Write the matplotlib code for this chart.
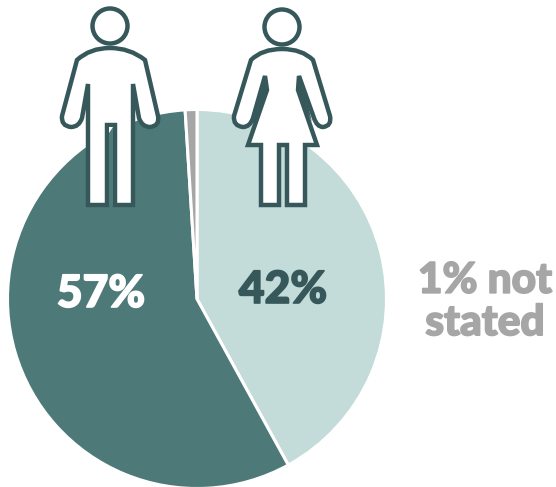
import matplotlib
matplotlib.use("Agg")
import matplotlib.pyplot as plt
import matplotlib.patheffects as pe
from matplotlib.patches import Circle, PathPatch, Polygon
from matplotlib.path import Path

# Datos
grupos = ["Mujeres", "Hombres", "No indicado"]
valores = [42, 57, 1]
colores = ["#c3dbd9", "#4d7a78", "#a6a6a6"]
etiquetas = ["42%", "57%"]
nota = "1% not\nstated"

W, H = 556, 487
oscuro = "#37585a"

plt.rcParams["font.family"] = ["Lato", "DejaVu Sans"]

fig = plt.figure(figsize=(W / 100, H / 100), dpi=100)
ax = fig.add_axes([0, 0, 1, 1])
ax.set_xlim(0, W)
ax.set_ylim(0, H)
ax.axis("off")


def py(y):
    # coordenadas con y hacia abajo
    return H - y


ax.pie(valores, colors=colores, startangle=90, counterclock=False,
       center=(197, py(299)), radius=189.5, frame=True,
       wedgeprops={"edgecolor": "white", "linewidth": 2.2})
ax.set_xlim(0, W)
ax.set_ylim(0, H)
ax.set_aspect("equal")
ax.axis("off")


def rotulo(x, y, s, color, size=32, **kw):
    ax.text(x, py(y), s, color=color, fontsize=size, fontweight="black",
            ha="center", va="center",
            path_effects=[pe.withStroke(linewidth=1.2, foreground=color)], **kw)


rotulo(101, 294, etiquetas[1], "white")
rotulo(283, 290, etiquetas[0], oscuro)
rotulo(485, 302, nota, colores[2], size=30.5, linespacing=1.14)


def silueta(segmentos):
    # segmentos: lista de (tipo, puntos)
    verts, codes = [], []
    for tipo, pts in segmentos:
        for p in pts:
            verts.append((p[0], py(p[1])))
        if tipo == "M":
            codes.append(Path.MOVETO)
        elif tipo == "L":
            codes += [Path.LINETO] * len(pts)
        elif tipo == "C":
            codes += [Path.CURVE3] * len(pts)
    verts.append(verts[0])
    codes.append(Path.CLOSEPOLY)
    return Path(verts, codes)


def cabeza(x, y):
    ax.add_patch(Circle((x, py(y)), 17.5, fc="white", ec=oscuro, lw=3.2, zorder=5))


# Hombre
cabeza(110, 26)
hombre = silueta([
    ("M", [(110, 48)]),
    ("C", [(90, 48), (77, 60)]),
    ("L", [(62, 116)]),
    ("C", [(61, 126), (71, 127)]),
    ("C", [(79, 127), (82, 118)]),
    ("L", [(88, 84), (88, 205), (107, 205), (107, 125), (115, 125),
           (115, 205), (133, 205), (133, 84), (139, 118)]),
    ("C", [(142, 127), (150, 127)]),
    ("C", [(160, 126), (158, 116)]),
    ("L", [(145, 60)]),
    ("C", [(130, 48), (110, 48)]),
])
ax.add_patch(PathPatch(hombre, fc="white", ec=oscuro, lw=3.2, joinstyle="miter", zorder=5))
# el hueco entre las piernas deja ver la torta
ax.add_patch(Polygon([(109, py(127)), (113, py(127)), (113, py(205)), (109, py(205))],
                     fc=colores[1], ec="none", zorder=6))
ax.add_patch(Polygon([(109, py(127)), (113, py(127)), (109, py(133))],
                     fc="white", ec="none", zorder=6))

# Mujer
cabeza(282, 27)
mujer = silueta([
    ("M", [(282, 49)]),
    ("C", [(262, 49), (251, 60)]),
    ("L", [(234, 116)]),
    ("C", [(233, 126), (243, 127)]),
    ("C", [(250, 127), (253, 118)]),
    ("L", [(265, 76), (267, 90), (248, 145), (261, 145), (261, 205), (279, 205),
           (279, 145), (287, 145), (287, 205), (305, 205), (305, 145), (317, 145),
           (298, 90), (299, 76), (314, 118)]),
    ("C", [(317, 127), (323, 127)]),
    ("C", [(332, 126), (330, 116)]),
    ("L", [(313, 60)]),
    ("C", [(302, 49), (282, 49)]),
])
ax.add_patch(PathPatch(mujer, fc="white", ec=oscuro, lw=3.2, joinstyle="miter", zorder=5))
ax.add_patch(Polygon([(264, py(76)), (267, py(76)), (267, py(92)), (252, py(122))],
                     fc=oscuro, ec="none", zorder=6))
ax.add_patch(Polygon([(298, py(76)), (301, py(76)), (312, py(122)), (298, py(92))],
                     fc=oscuro, ec="none", zorder=6))

fig.savefig("out.png", dpi=100)
